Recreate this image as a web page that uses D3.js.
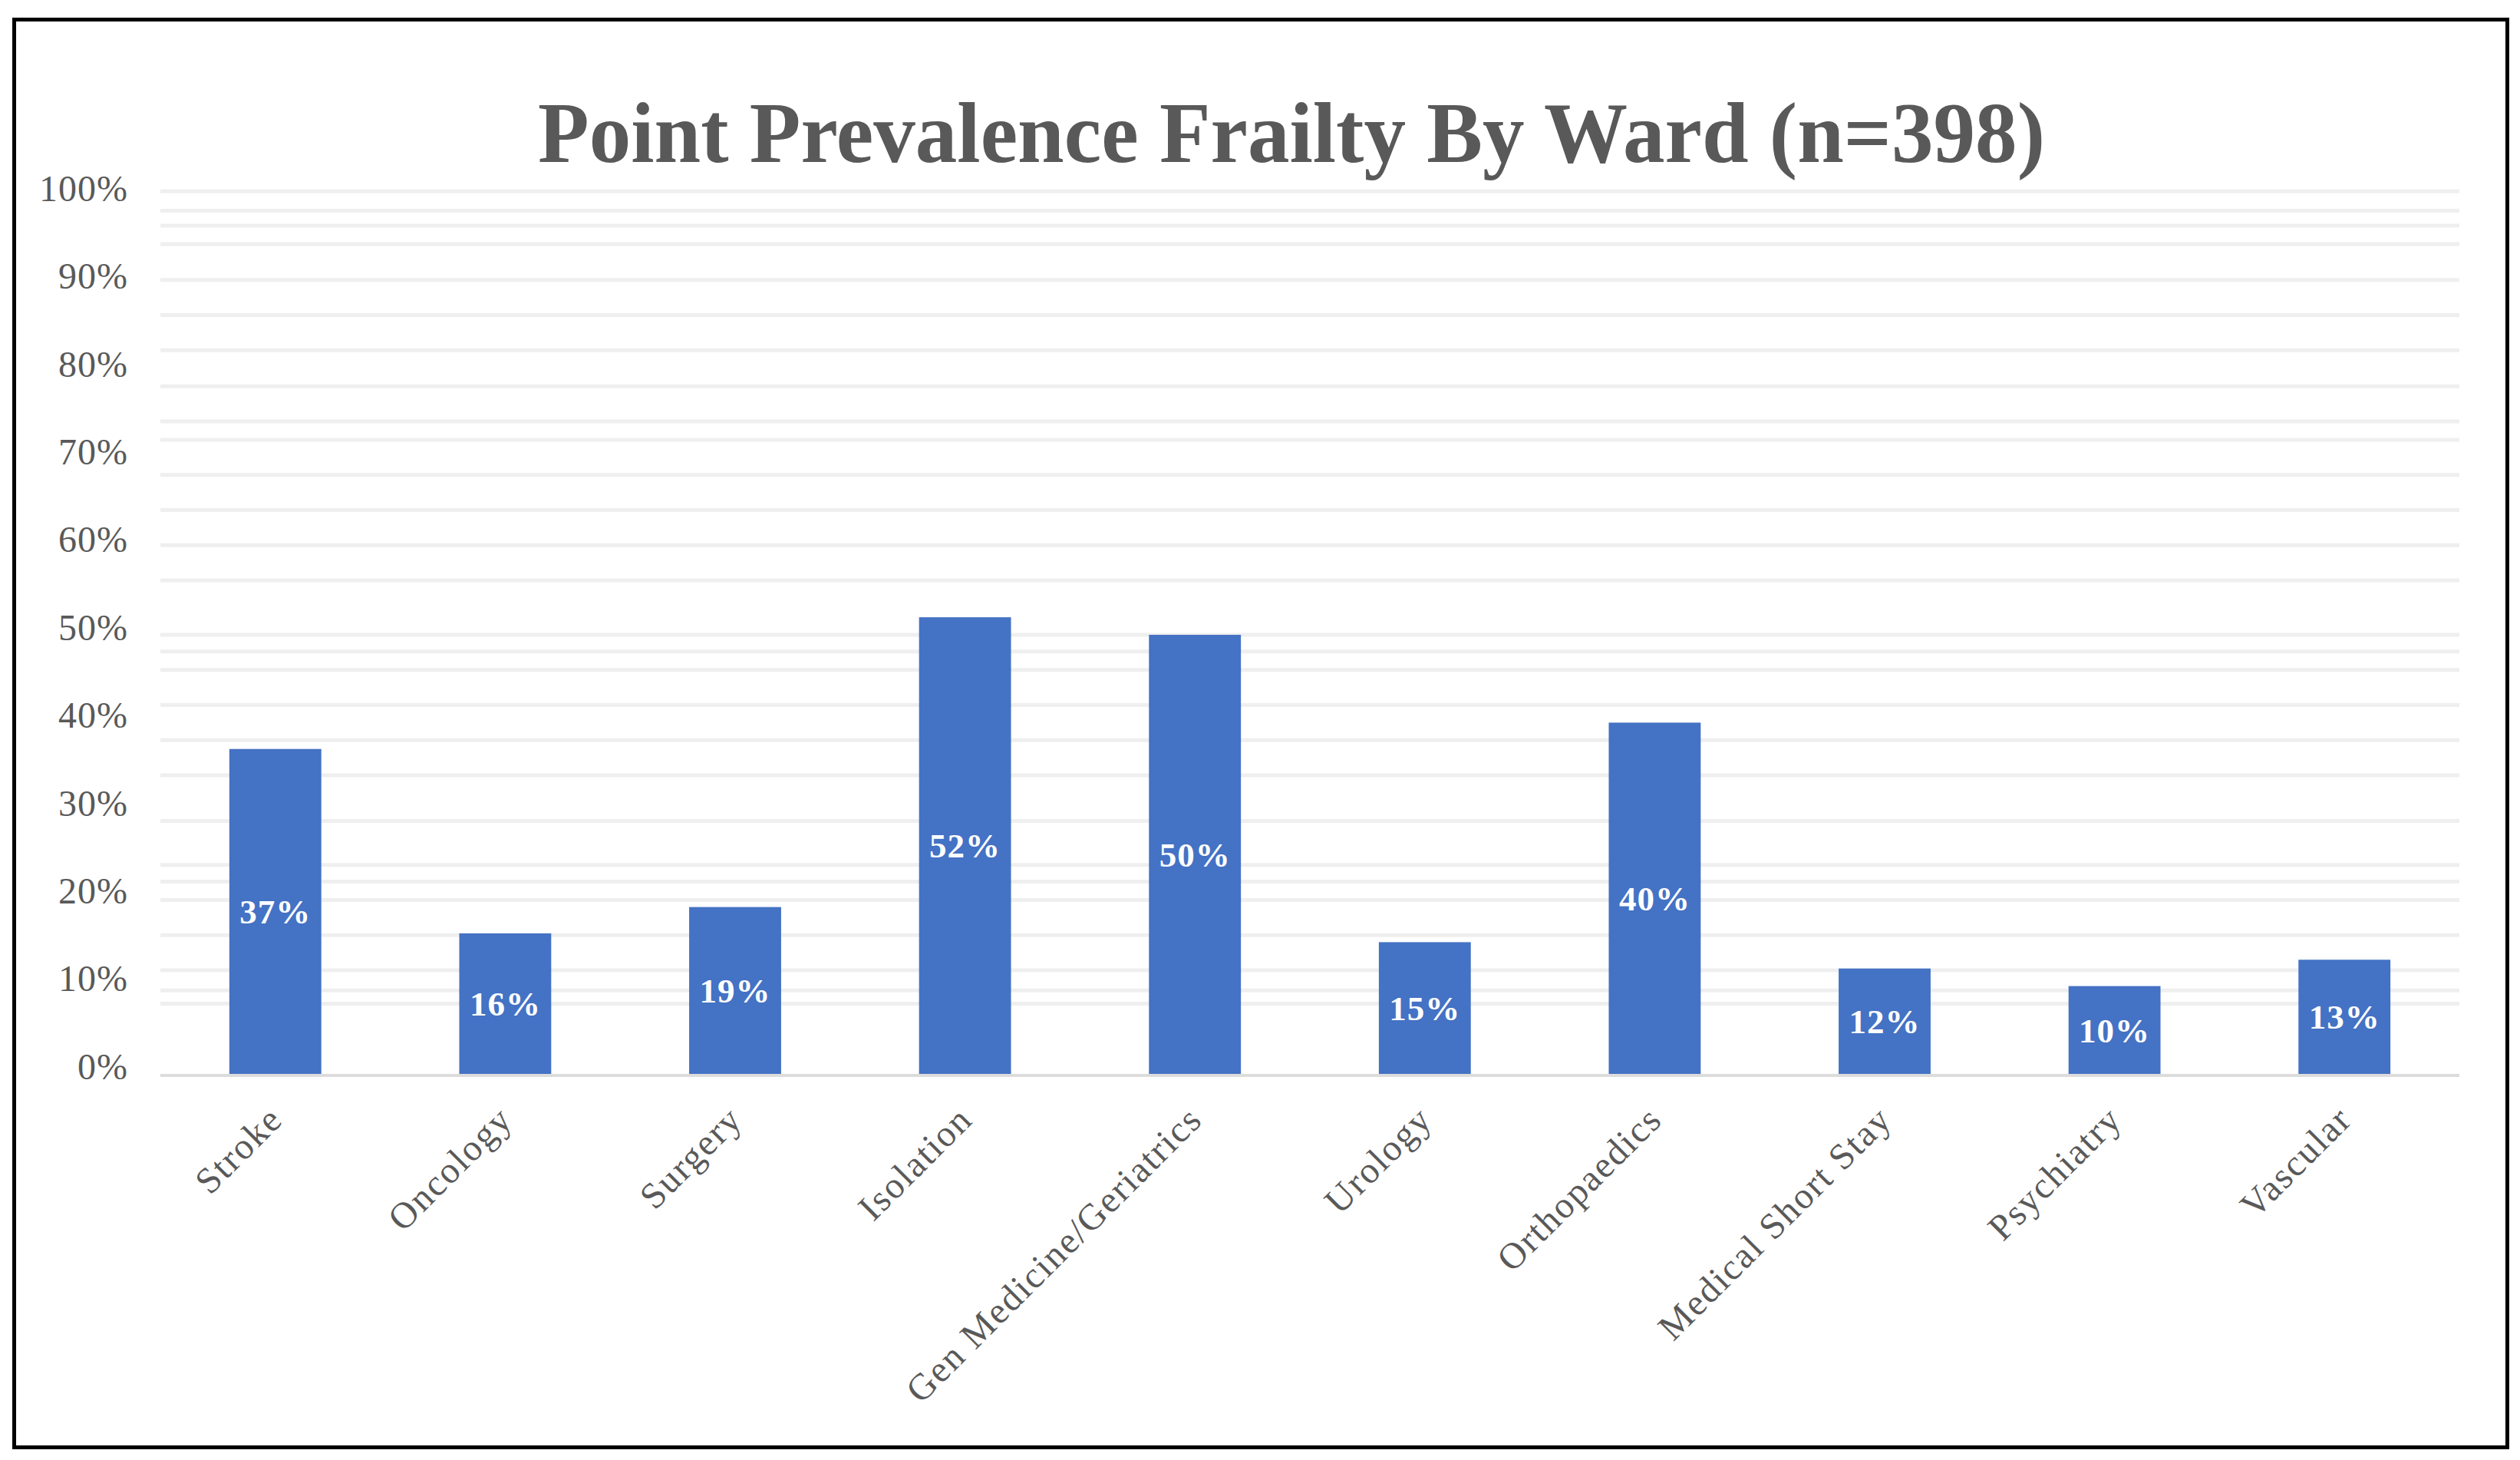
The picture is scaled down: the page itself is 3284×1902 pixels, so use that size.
<!DOCTYPE html>
<html>
<head>
<meta charset="utf-8">
<script src="https://cdn.jsdelivr.net/npm/d3@7"></script>
<style>
  html, body { margin: 0; padding: 0; background: #ffffff; }
  svg { display: block; }
</style>
</head>
<body>
<svg id="chart" width="3284" height="1902"></svg>
<script>
// ---- data ----
const chartTitle = "Point Prevalence Frailty By Ward (n=398)";
const wards = ["Stroke", "Oncology", "Surgery", "Isolation", "Gen Medicine/Geriatrics",
               "Urology", "Orthopaedics", "Medical Short Stay", "Psychiatry", "Vascular"];
const frailtyShare = [0.37, 0.16, 0.19, 0.52, 0.50, 0.15, 0.40, 0.12, 0.10, 0.13];
const yTickValues = [0, 0.1, 0.2, 0.3, 0.4, 0.5, 0.6, 0.7, 0.8, 0.9, 1.0];
// faint gridlines as they appear in the picture (fractions of 100%)
const gridValues = [1.005, 0.983, 0.966, 0.945, 0.904, 0.864, 0.824, 0.783, 0.743, 0.722,
                    0.682, 0.642, 0.602, 0.562, 0.500, 0.481, 0.460, 0.420, 0.380, 0.340,
                    0.288, 0.238, 0.219, 0.198, 0.158, 0.118, 0.095, 0.080];

// ---- layout ----
const W = 3284, H = 1902;
const plot = { left: 209, right: 3205, top: 255, bottom: 1399 };
const serif = "'Liberation Serif', 'Times New Roman', serif";
const textGray = "#595959";
const barColor = "#4472C4";

const svg = d3.select("#chart");
svg.append("rect").attr("x", 0).attr("y", 0).attr("width", W).attr("height", H).attr("fill", "#ffffff");

// outer frame
svg.append("rect")
  .attr("x", 18.5).attr("y", 25.5)
  .attr("width", 3249).attr("height", 1860)
  .attr("fill", "none").attr("stroke", "#000000").attr("stroke-width", 5);

const x = d3.scaleBand()
  .domain(wards)
  .range([plot.left, plot.right])
  .paddingInner(0.6)
  .paddingOuter(0.3);

const y = d3.scaleLinear()
  .domain([0, 1])
  .range([plot.bottom, plot.top]);

// gridlines
svg.append("g").selectAll("line")
  .data(gridValues)
  .join("line")
  .attr("x1", plot.left).attr("x2", plot.right)
  .attr("y1", d => y(d)).attr("y2", d => y(d))
  .attr("stroke", "#EFEFEF")
  .attr("stroke-width", 5);

// title
svg.append("text")
  .attr("x", 1683).attr("y", 211)
  .attr("text-anchor", "middle")
  .attr("font-family", serif)
  .attr("font-weight", "bold")
  .attr("font-size", 112)
  .attr("fill", textGray)
  .attr("textLength", 1964)
  .attr("lengthAdjust", "spacingAndGlyphs")
  .text(chartTitle);

// y axis labels
const yAxis = d3.axisLeft(y)
  .tickValues(yTickValues)
  .tickFormat(d3.format(".0%"))
  .tickSize(0)
  .tickPadding(42);
const gy = svg.append("g").attr("transform", `translate(${plot.left},0)`).call(yAxis);
gy.select(".domain").remove();
gy.selectAll("text")
  .attr("font-family", serif)
  .attr("font-size", 48)
  .attr("letter-spacing", 1)
  .attr("fill", textGray)
  .attr("y", -9);

// bars
svg.append("g").selectAll("rect")
  .data(wards)
  .join("rect")
  .attr("x", d => x(d))
  .attr("width", x.bandwidth())
  .attr("y", (d, i) => y(frailtyShare[i]))
  .attr("height", (d, i) => y(0) - y(frailtyShare[i]))
  .attr("fill", barColor);

// baseline
svg.append("line")
  .attr("x1", plot.left).attr("x2", plot.right)
  .attr("y1", y(0) + 2).attr("y2", y(0) + 2)
  .attr("stroke", "#DCDCDC").attr("stroke-width", 4);

// data labels
svg.append("g").selectAll("text")
  .data(wards)
  .join("text")
  .attr("x", d => x(d) + x.bandwidth() / 2)
  .attr("y", (d, i) => (y(frailtyShare[i]) + y(0)) / 2)
  .attr("dy", "0.35em")
  .attr("text-anchor", "middle")
  .attr("font-family", serif)
  .attr("font-weight", "bold")
  .attr("font-size", 45)
  .attr("letter-spacing", 1)
  .attr("fill", "#ffffff")
  .text((d, i) => d3.format(".0%")(frailtyShare[i]));

// x axis labels
const xAxis = d3.axisBottom(x).tickSize(0);
const gx = svg.append("g").attr("transform", `translate(0,${plot.bottom})`).call(xAxis);
gx.select(".domain").remove();
gx.selectAll("text")
  .attr("x", 0).attr("y", 0).attr("dy", 0)
  .attr("text-anchor", "end")
  .attr("transform", "translate(12,62) rotate(-45)")
  .attr("font-family", serif)
  .attr("font-size", 48)
  .attr("letter-spacing", 2)
  .attr("fill", textGray);
</script>
</body>
</html>
